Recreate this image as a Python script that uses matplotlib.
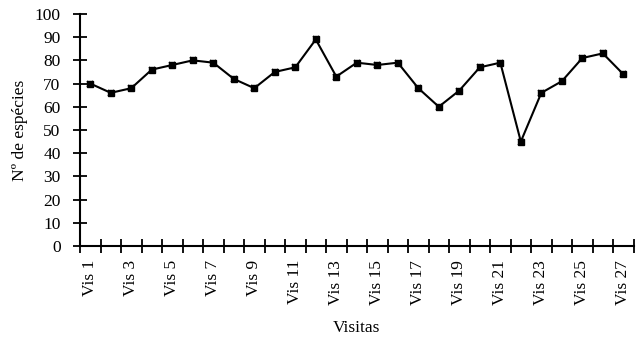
import matplotlib
matplotlib.use("Agg")
import matplotlib.pyplot as plt
import numpy as np

categories = [f"Vis {i}" for i in range(1, 28)]
values = [70, 66, 68, 76, 78, 80, 79, 72, 68, 75, 77, 89, 73, 79, 78, 79,
          68, 60, 67, 77, 79, 45, 66, 71, 81, 83, 74]
yticks = list(range(0, 101, 10))

plt.rcParams['font.family'] = ['Liberation Serif', 'DejaVu Serif']
plt.rcParams['font.size'] = 12.5

fig = plt.figure(figsize=(6.4, 3.4), dpi=100)
ax = fig.add_axes([0.125, 0.2765, 0.865, 0.6825])

x = np.arange(len(categories))
ax.plot(x, values, color='black', lw=1.5, marker='s', ms=4, mec='black', mfc='black')
ax.plot(x, values, ls='none', marker='x', ms=5, mew=1.1, color='black')

ax.set_xlim(-0.5, len(categories) - 0.5)
ax.set_ylim(0, 100)
ax.set_yticks(yticks)
ax.set_xticks(x[::2])
ax.set_xticklabels(categories[::2], rotation=90)
ax.set_xticks(np.arange(-0.5, len(categories) + 0.5, 1), minor=True)
ax.tick_params(axis='x', which='major', length=0, pad=10)
ax.tick_params(axis='x', which='minor', direction='inout', length=10, width=1.3)
ax.tick_params(axis='y', direction='inout', length=10, width=1.3, pad=9)

for s in ['top', 'right']:
    ax.spines[s].set_visible(False)
for s in ['left', 'bottom']:
    ax.spines[s].set_linewidth(1.5)

ax.set_xlabel("Visitas", labelpad=11)
ax.set_ylabel("Nº de espécies", labelpad=5)

fig.savefig("out.png", dpi=100)
